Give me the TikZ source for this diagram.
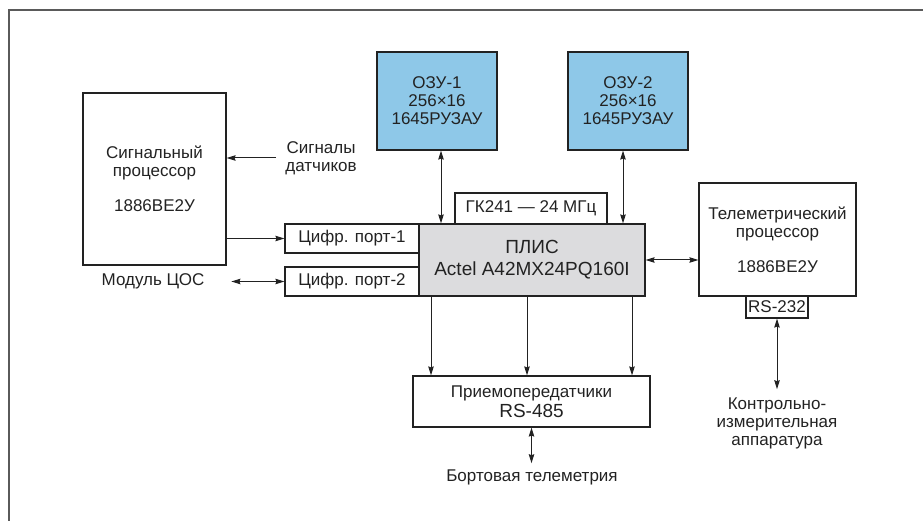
\documentclass[tikz,border=0pt]{standalone}
\usepackage{fontspec}
\setmainfont{Liberation Sans}
\usetikzlibrary{arrows.meta}
\definecolor{ink}{HTML}{222222}
\definecolor{framecol}{HTML}{5A5A5A}
\definecolor{ramcol}{HTML}{8EC8E8}
\definecolor{fpgacol}{HTML}{DCDCDE}
\def\W{923}
\def\H{521}
\tikzset{
  blk/.style={draw=ink,line width=1.2pt,rectangle,align=center,inner sep=0pt,text=ink},
  lbl/.style={text=ink,align=center,inner sep=0pt},
  big/.style={font=\fontsize{19}{22}\selectfont},
  sig/.style={ink,line width=1pt,-{Stealth[length=9pt,width=5.5pt,inset=1pt]}},
  dbl/.style={ink,line width=1pt,{Stealth[length=9pt,width=5.5pt,inset=1pt]}-{Stealth[length=9pt,width=5.5pt,inset=1pt]}},
}

\begin{document}
\begin{tikzpicture}[x=1pt,y=-1pt,font=\fontsize{17}{18}\selectfont]
\useasboundingbox (0,0) rectangle (\W,\H);

% ---------------------------------------------------------------- frame
\draw[framecol,line width=1.8pt] (9,\H) -- (9,10) -- (\W,10);

% ---------------------------------------------------------------- blocks
\node[blk,minimum width=143,minimum height=172] (dsp) at (154.5,179) {Сигнальный\\процессор\\[17pt]1886ВЕ2У};
\node[blk,fill=ramcol,minimum width=120,minimum height=98] (ozu1) at (437,101) {ОЗУ-1\\256×16\\1645РУЗАУ};
\node[blk,fill=ramcol,minimum width=120,minimum height=98] (ozu2) at (628,101) {ОЗУ-2\\256×16\\1645РУЗАУ};
\node[blk,minimum width=152,minimum height=31] (gk) at (531,208.5) {ГК241 — 24 МГц};
\node[blk,fill=fpgacol,big,minimum width=226,minimum height=72] (plis) at (532,260) {ПЛИС\\Actel A42MX24PQ160I};
\node[blk,minimum width=134,minimum height=29] (port1) at (352,238.5) {Цифр. порт-1};
\node[blk,minimum width=134,minimum height=29] (port2) at (352,281.5) {Цифр. порт-2};
\node[blk,minimum width=157,minimum height=113] (tele) at (777.5,239.5) {Телеметрический\\процессор\\[17pt]1886ВЕ2У};
\node[blk,minimum width=62,minimum height=22] (rs232) at (777,307) {RS-232};
\node[blk,minimum width=237,minimum height=51] (trx) at (531.5,401.5) {Приемопередатчики\\[2pt]{\fontsize{19}{21}\selectfont RS-485}};

% ---------------------------------------------------------------- labels
\node[lbl] (sigin) at (321,158) {Сигналы\\датчиков};
\node[lbl] (dspname) at (153,281) {Модуль ЦОС};
\node[lbl] (bort) at (532,477) {Бортовая телеметрия};
\node[lbl] (kia) at (777,423) {Контрольно-\\измерительная\\аппаратура};

% ---------------------------------------------------------------- connectors
\draw[sig] ([xshift=-9pt]sigin.west) -- (sigin.west -| dsp.east);
\draw[sig] (dsp.east |- port1.west) -- (port1.west);
\draw[dbl] (port2.west) -- ++(-53,0);
\draw[dbl] ([xshift=4pt]ozu1.south) -- ([xshift=4pt]ozu1.south |- plis.north);
\draw[dbl] ([xshift=-5pt]ozu2.south) -- ([xshift=-5pt]ozu2.south |- plis.north);
\draw[dbl] (plis.east) -- (plis.east -| tele.west);
\foreach \dx in {-101,-5,100}
  {\draw[sig] ([xshift=\dx pt]plis.south) -- ([xshift=\dx pt]plis.south |- trx.north);}
\draw[dbl,shorten >=6pt] (trx.south) -- (trx.south |- bort.north);
\draw[dbl,shorten >=8pt] (rs232.south) -- (kia.north);

\end{tikzpicture}
\end{document}
